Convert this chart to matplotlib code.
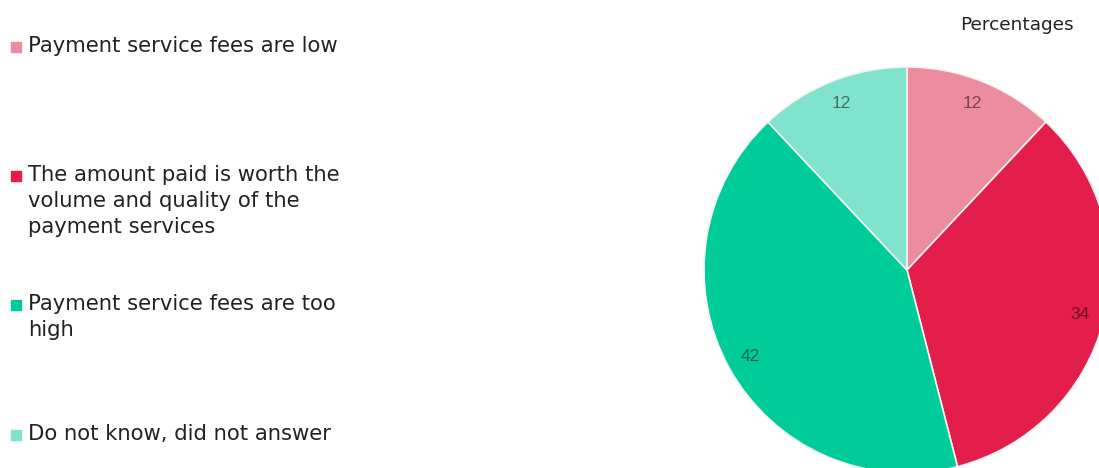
import matplotlib.pyplot as plt

# survey answers, in drawing order (clockwise from 12 o'clock)
labels = [
    "Payment service fees are low",
    "The amount paid is worth the\nvolume and quality of the\npayment services",
    "Payment service fees are too\nhigh",
    "Do not know, did not answer",
]
values = [12, 34, 42, 12]
colors = ["#ee8c9f", "#e31e4b", "#00cc99", "#80e4cd"]

W, H = 1099, 468
fig = plt.figure(figsize=(W / 100, H / 100), dpi=100)
ax = fig.add_axes([0, 0, 1, 1])

wedges, texts, autotexts = ax.pie(
    values,
    colors=colors,
    startangle=90,
    counterclock=False,
    center=(907, H - 270),
    radius=203,
    autopct=lambda p: f"{p:.0f}",
    pctdistance=0.88,
    wedgeprops=dict(edgecolor="#f2f2f2", linewidth=1.2),
    textprops=dict(fontsize=12.5, family="Liberation Sans"),
)
for t in autotexts:
    t.set_color("#000000")
    t.set_alpha(0.5)

ax.set_xlim(0, W)
ax.set_ylim(0, H)
ax.set_aspect("equal")
ax.axis("off")

# legend drawn by hand: one square marker per answer, text to its right
legend_y = [47, 176, 305, 435]
for y, lab, c in zip(legend_y, labels, colors):
    ax.scatter([16], [H - y], marker="s", s=60, color=c, clip_on=False)
    ax.text(28, H - y + 11, lab, fontsize=15.2, color="#222222", va="top",
            ha="left", linespacing=1.36)

ax.text(1017, H - 25, "Percentages", fontsize=13.3, color="#222222",
        ha="center", va="center")

fig.savefig("out.png", dpi=100)
